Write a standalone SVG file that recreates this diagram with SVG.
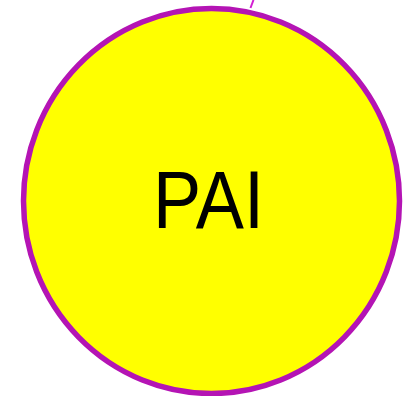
<svg xmlns="http://www.w3.org/2000/svg" width="410" height="396" viewBox="0 0 410 396">
<style>
.node{fill:#ffff00;stroke:#b414b4;stroke-width:5.5}
.lbl{font-family:"Liberation Sans",Arial,sans-serif;font-size:81px;fill:#000}
.conn{stroke:#d21ed2;stroke-width:2;fill:none}
</style>
<g id="connectors"><line class="conn" x1="253.5" y1="0" x2="250.5" y2="8"/></g>
<g id="node-pai">
<ellipse class="node" cx="211.5" cy="201" rx="188" ry="192.5"/>
<text class="lbl" x="153" y="228" textLength="111" lengthAdjust="spacingAndGlyphs">PAI</text>
</g>
</svg>
